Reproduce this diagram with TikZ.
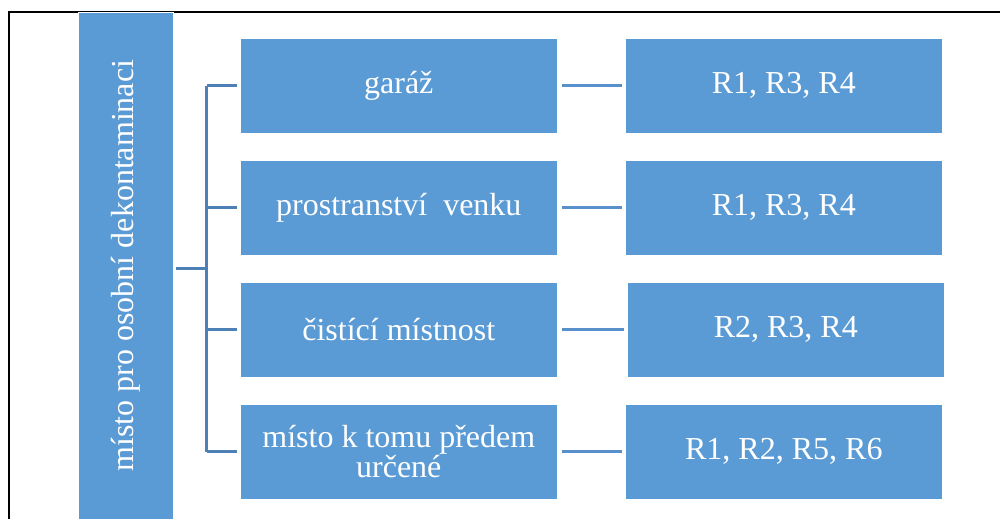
\documentclass[tikz,border=0pt]{standalone}
\usepackage{fontspec}
\setmainfont{Liberation Serif}
\definecolor{boxblue}{HTML}{5B9BD5}
\definecolor{treeblue}{HTML}{4D80B5}
\definecolor{linkblue}{HTML}{5890CC}
\begin{document}
\begin{tikzpicture}[x=1pt,y=-1pt,
  box/.style={fill=boxblue,draw=white,line width=0.6pt,minimum width=317pt,minimum height=95pt,
    inner sep=0pt,text=white,align=center,font=\fontsize{32}{30}\selectfont,anchor=north west},
  tree/.style={draw=treeblue,line width=3pt},
  link/.style={draw=linkblue,line width=3pt}]
\useasboundingbox (0,0) rectangle (1000,519);
% frame edges
\draw[line width=1.6pt] (9,519) -- (9,12) -- (1000,12);
% root box with vertical title
\node[fill=boxblue,draw=white,line width=0.6pt,minimum width=507pt,minimum height=95pt,inner sep=0pt,
  rotate=90,text=white,font=\fontsize{32}{30}\selectfont] (root) at (125.5,265.5) {místo pro osobní dekontaminaci};
% location boxes
\node[box] (l1) at (240,38) {garáž};
\node[box] (l2) at (240,160) {prostranství\ \ venku};
\node[box] (l3) at (240,282) {čistící místnost};
\node[box] (l4) at (240,404) {místo k tomu předem\\určené};
% result boxes
\node[box] (r1) at (625,38) {R1, R3, R4};
\node[box] (r2) at (625,160) {R1, R3, R4};
\node[box] (r3) at (627,282) {R2, R3, R4};
\node[box] (r4) at (625,404) {R1, R2, R5, R6};
% tree
\coordinate (j) at (206.5,268);
\draw[tree] (root.south |- j) ++(3,0) -- (j);
\draw[tree] (j |- l1.west) -- (j |- l4.west);
\foreach \n in {l1,l2,l3,l4}{
  \draw[tree] (j |- \n.west) -- ([xshift=-3pt]\n.west);
}
% links
\foreach \a/\b in {l1/r1,l2/r2,l3/r3,l4/r4}{
  \draw[link] ([xshift=4pt]\a.east) -- ([xshift=-3pt]\a.east -| \b.west);
}
\end{tikzpicture}
\end{document}
